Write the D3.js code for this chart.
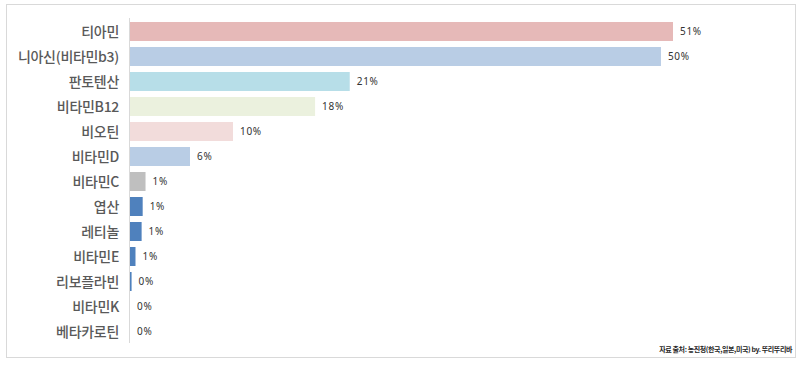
<!DOCTYPE html>
<html><head><meta charset="utf-8">
<script src="https://cdn.jsdelivr.net/npm/d3@7"></script>
<style>body{margin:0;background:#fff;}svg{display:block;}</style>
</head><body>
<svg id="c" width="800" height="366"></svg>
<script>
const categories = ["티아민","니아신(비타민b3)","판토텐산","비타민B12","비오틴","비타민D","비타민C","엽산","레티놀","비타민E","리보플라빈","비타민K","베타카로틴"];
const values = [51.4, 50.26, 20.8, 17.52, 9.75, 5.68, 1.47, 1.2, 1.1, 0.52, 0.15, 0, 0];
const colors = ["#e6b9b8","#b9cde5","#b7dee8","#ebf1de","#f2dcdb","#b9cde5","#bfbfbf","#4f81bd","#4f81bd","#4f81bd","#4f81bd","#4f81bd","#4f81bd"];
const source = "자료 출처: 농진청(한국,일본,미국) by. 뚜리뚜리바";

const svg = d3.select("#c");
svg.append("rect").attr("x",6.5).attr("y",4.5).attr("width",789).attr("height",353)
  .attr("fill","#fff").attr("stroke","#d9d9d9").attr("stroke-width",1);

const x0 = 130;
const x = d3.scaleLinear().domain([0, 51.4]).range([x0, 673]);
const y = d3.scaleBand().domain(categories).range([19, 344]).paddingInner(0.24).paddingOuter(0.12);

svg.append("g").selectAll("rect").data(categories).join("rect")
  .attr("x", x0).attr("y", d => y(d))
  .attr("width", (d,i) => x(values[i]) - x0)
  .attr("height", y.bandwidth())
  .attr("fill", (d,i) => colors[i]);

svg.append("line").attr("x1",129.5).attr("x2",129.5).attr("y1",18).attr("y2",343)
  .attr("stroke","#d9d9d9").attr("stroke-width",1);

svg.append("g").selectAll("text").data(categories).join("text")
  .attr("x", 119).attr("y", d => y(d) + y.bandwidth()/2)
  .attr("dy","0.36em").attr("text-anchor","end")
  .attr("font-family","'Noto Sans CJK KR', sans-serif").attr("font-size",14).attr("font-weight",500)
  .attr("letter-spacing","-0.3")
  .attr("fill","#595959").text(d => d);

svg.append("g").selectAll("text").data(categories).join("text")
  .attr("x", (d,i) => x(values[i]) + 7).attr("y", d => y(d) + y.bandwidth()/2)
  .attr("dy","0.36em")
  .attr("font-family","'Noto Sans', sans-serif").attr("font-size",10)
  .attr("letter-spacing","0.7")
  .attr("fill","#333").text((d,i) => Math.round(values[i]) + "%");

svg.append("text").attr("x",792).attr("y",352).attr("text-anchor","end")
  .attr("font-family","'Noto Sans CJK KR', sans-serif").attr("font-size",7).attr("font-weight","bold")
  .attr("letter-spacing","-0.4")
  .attr("fill","#262626").text(source);
</script>
</body></html>
